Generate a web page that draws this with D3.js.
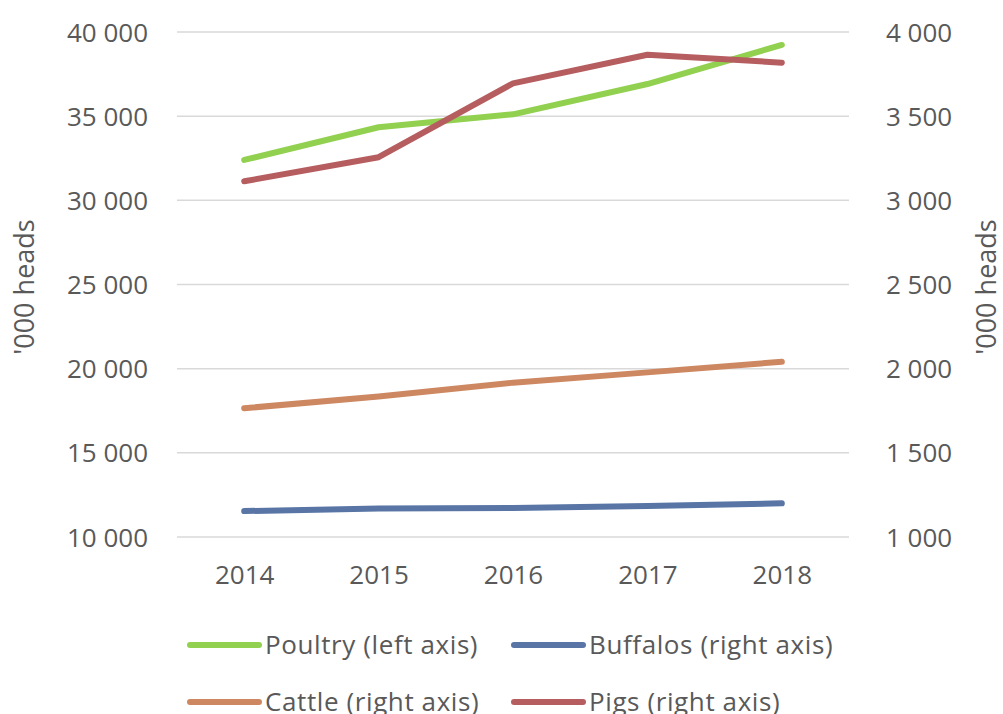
<!DOCTYPE html>
<html>
<head>
<meta charset="utf-8">
<script src="https://cdn.jsdelivr.net/npm/d3@7"></script>
<style>
  body { margin: 0; background: #fff; }
  svg { display: block; font-family: "Open Sans", sans-serif; }
</style>
</head>
<body>
<svg width="1003" height="714"></svg>
<script>
const years = ["2014", "2015", "2016", "2017", "2018"];

// left axis
const poultry = [32400, 34340, 35110, 36910, 39230];
// right axis
const buffalos = [1154, 1170, 1172, 1184, 1200];
const cattle = [1765, 1834, 1917, 1978, 2041];
const pigs = [3113, 3256, 3695, 3865, 3818];

const leftTicks = [10000, 15000, 20000, 25000, 30000, 35000, 40000];
const rightTicks = [1000, 1500, 2000, 2500, 3000, 3500, 4000];

const series = [
  { name: "Poultry (left axis)", values: poultry, axis: "left", color: "#92d050" },
  { name: "Buffalos (right axis)", values: buffalos, axis: "right", color: "#5875a5" },
  { name: "Cattle (right axis)", values: cattle, axis: "right", color: "#cd8862" },
  { name: "Pigs (right axis)", values: pigs, axis: "right", color: "#b65d60" }
];

const svg = d3.select("svg");
const plotLeft = 177, plotRight = 849, plotTop = 32, plotBottom = 537;
const textCol = "#595959";
const fmt = v => d3.format(",")(v).replace(/,/g, " ");

const x = d3.scalePoint()
  .domain(years)
  .range([plotLeft, plotRight])
  .padding(0.5);

const yL = d3.scaleLinear().domain([10000, 40000]).range([plotBottom, plotTop]);
const yR = d3.scaleLinear().domain([1000, 4000]).range([plotBottom, plotTop]);

// gridlines
svg.append("g")
  .selectAll("line")
  .data(leftTicks)
  .enter().append("line")
  .attr("x1", plotLeft)
  .attr("x2", plotRight)
  .attr("y1", d => yL(d))
  .attr("y2", d => yL(d))
  .attr("stroke", "#d9d9d9")
  .attr("stroke-width", 1.5);

const leftAxis = svg.append("g")
  .attr("transform", `translate(${plotLeft - 29},0)`)
  .call(d3.axisLeft(yL).tickValues(leftTicks).tickFormat(fmt).tickSize(0).tickPadding(0));

const rightAxis = svg.append("g")
  .attr("transform", `translate(${plotRight + 37},0)`)
  .call(d3.axisRight(yR).tickValues(rightTicks).tickFormat(fmt).tickSize(0).tickPadding(0));

const xAxis = svg.append("g")
  .attr("transform", `translate(0,${plotBottom + 47})`)
  .call(d3.axisBottom(x).tickSize(0).tickPadding(0));

[leftAxis, rightAxis, xAxis].forEach(a => {
  a.select(".domain").remove();
  a.selectAll("text")
    .attr("font-size", 26)
    .attr("font-family", "Open Sans, sans-serif")
    .attr("fill", textCol);
});
leftAxis.selectAll("text").attr("dy", "0.35em");
rightAxis.selectAll("text").attr("dy", "0.35em");
xAxis.selectAll("text").attr("dy", "0");

// axis titles
svg.append("text")
  .attr("transform", "translate(34,287) rotate(-90)")
  .attr("text-anchor", "middle")
  .attr("font-size", 27)
  .attr("fill", textCol)
  .text("'000 heads");

svg.append("text")
  .attr("transform", "translate(996,287) rotate(-90)")
  .attr("text-anchor", "middle")
  .attr("font-size", 27)
  .attr("fill", textCol)
  .text("'000 heads");

// lines
series.forEach(s => {
  const yS = s.axis === "left" ? yL : yR;
  const line = d3.line()
    .x((d, i) => x(years[i]))
    .y(d => yS(d));
  svg.append("path")
    .datum(s.values)
    .attr("fill", "none")
    .attr("stroke", s.color)
    .attr("stroke-width", 6)
    .attr("stroke-linecap", "round")
    .attr("stroke-linejoin", "round")
    .attr("d", line);
});

// legend
const legendPos = [[190, 645], [514, 645], [190, 702], [514, 702]];
const legend = svg.append("g")
  .selectAll("g")
  .data(series)
  .enter().append("g")
  .attr("transform", (d, i) => `translate(${legendPos[i][0]},${legendPos[i][1]})`);

legend.append("line")
  .attr("x1", 0)
  .attr("x2", 69)
  .attr("stroke", d => d.color)
  .attr("stroke-width", 6)
  .attr("stroke-linecap", "round");

legend.append("text")
  .attr("x", 75)
  .attr("dy", "0.35em")
  .attr("font-size", 26)
  .attr("letter-spacing", 0.6)
  .attr("fill", textCol)
  .text(d => d.name);
</script>
</body>
</html>
